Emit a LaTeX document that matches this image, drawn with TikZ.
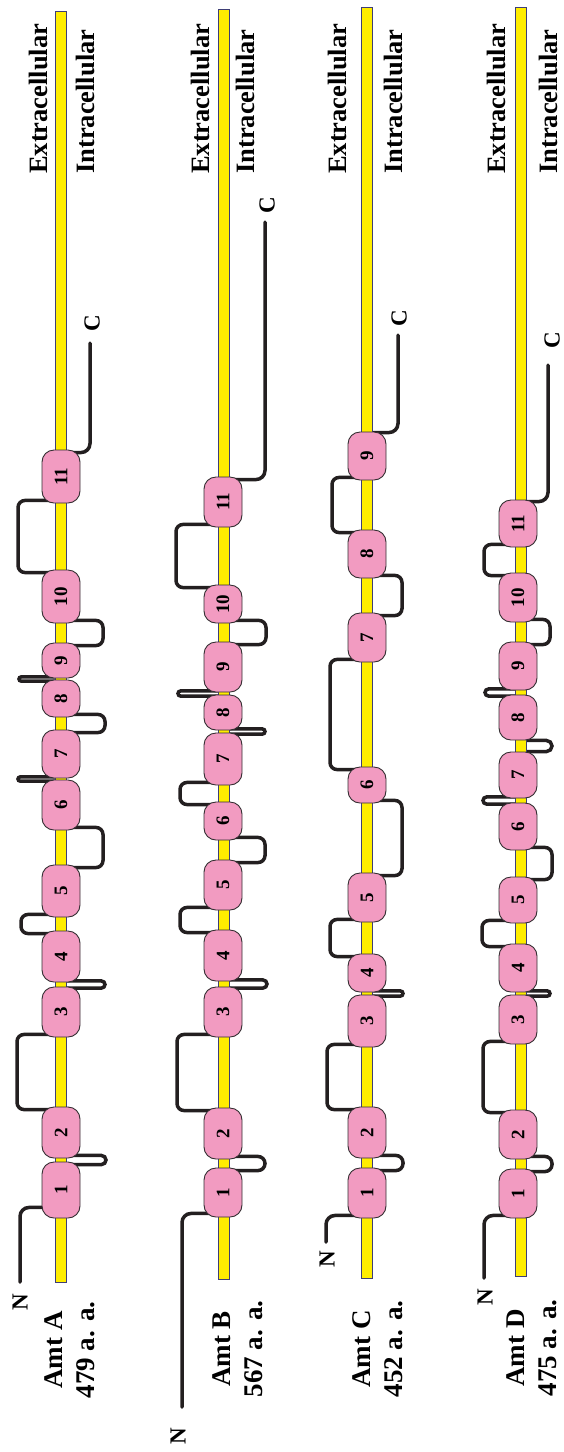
\documentclass[tikz,border=0pt]{standalone}
\usepackage{fontspec}
\setmainfont{Liberation Serif}
\usepackage{graphicx}
\usepackage{xcolor}
\definecolor{helixpink}{RGB}{242,155,193}
\definecolor{lipid}{RGB}{255,237,0}
\definecolor{lipidedge}{RGB}{62,62,118}
\definecolor{chain}{RGB}{35,31,32}
\definecolor{helixedge}{RGB}{52,46,50}
\usepackage{tikz}
\usetikzlibrary{backgrounds,calc}
\tikzset{
  %% membrane band and helices
  membrane/.style={draw=lipidedge, line width=0.6pt, fill=lipid,
                   minimum width=11pt, inner sep=0pt},
  helix/.style={draw=helixedge, line width=0.9pt, fill=helixpink,
                rounded corners=12pt, minimum width=38pt, inner sep=0pt,
                font=\fontsize{19}{22}\selectfont\bfseries},
  %% peptide chain between helices
  chainline/.style={draw=chain, line width=3.5pt, line cap=round},
  %% labels
  sidelabel/.style={rotate=90, anchor=west, inner sep=0pt,
                    font=\fontsize{26.5}{30}\selectfont\bfseries},
  amtlabel/.style={rotate=90, align=center, inner sep=0pt,
                   font=\fontsize{27}{32}\selectfont\bfseries},
  termlabel/.style={rotate=90, inner sep=0pt,
                    font=\fontsize{23}{26}\selectfont\bfseries},
}

\begin{document}
\begin{tikzpicture}[x=1pt, y=-1pt]
\useasboundingbox (0,0) rectangle (563,1452);

%% helices
\foreach \k/\yy/\h in {1/1190/56, 2/1132.5/51, 3/1012/50, 4/956.5/51,
    5/891/52, 6/805/50, 7/754/48, 8/698.5/37, 9/660.5/35, 10/596.5/53, 11/476.5/53}
  \node[helix, minimum height=\h pt] (a\k) at (61,\yy) {\rotatebox{90}{\k}};
\foreach \k/\yy/\h in {1/1192.5/49, 2/1133.5/51, 3/1012/50, 4/955.5/51,
    5/885/50, 6/821/38, 7/759/52, 8/712.5/35, 9/667/50, 10/604/38, 11/502/50}
  \node[helix, minimum height=\h pt] (b\k) at (223,\yy) {\rotatebox{90}{\k}};
\foreach \k/\yy/\h in {1/1193/50, 2/1132.5/51, 3/1021/52, 4/973/38,
    5/897.5/49, 6/785/36, 7/637.5/49, 8/554/48, 9/456/48}
  \node[helix, minimum height=\h pt] (c\k) at (367,\yy) {\rotatebox{90}{\k}};
\foreach \k/\yy/\h in {1/1193.5/49, 2/1134.5/49, 3/1019.5/49, 4/968/48,
    5/900/46, 6/826.5/47, 7/775/46, 8/717.5/45, 9/666/48, 10/597.5/49, 11/523.5/47}
  \node[helix, minimum height=\h pt] (d\k) at (518,\yy) {\rotatebox{90}{\k}};

%% side labels
\foreach \xe/\xi in {38/85, 200/245, 337/393, 496/548} {
  \node[sidelabel] at (\xe,174) {Extracellular};
  \node[sidelabel] at (\xi,174) {Intracellular};
}

%% protein names
\node[amtlabel] (labA) at (70,1350) {Amt A\\479 a. a.};
\node[amtlabel] (labB) at (238,1349) {Amt B\\567 a. a.};
\node[amtlabel] (labC) at (378,1349) {Amt C\\452 a. a.};
\node[amtlabel] (labD) at (532,1348) {Amt D\\475 a. a.};

%% termini
\node[termlabel] (nA) at (20,1302) {N};
\node[termlabel] (nB) at (178,1436) {N};
\node[termlabel] (nC) at (327,1259) {N};
\node[termlabel] (nD) at (485,1297) {N};
\node[termlabel] (cA) at (92,323) {C};
\node[termlabel] (cB) at (267,205) {C};
\node[termlabel] (cC) at (399,318) {C};
\node[termlabel] (cD) at (552,340) {C};
\coordinate (nendA) at (20,1282);
\coordinate (nendB) at (182,1407);
\coordinate (nendC) at (326,1242);
\coordinate (nendD) at (484,1278);
\coordinate (cendA) at (90,343);
\coordinate (cendB) at (265,222);
\coordinate (cendC) at (398,335);
\coordinate (cendD) at (548,365);

\begin{pgfonlayer}{background}
  %% open loops: from helix / to helix / reach / inset
  \foreach \hf/\ht/\dx/\ins in {a2/a3/-44/3, a4/a5/-40/3, a5/a6/42/3, a7/a8/44/3,
      a9/a10/42/3, a10/a11/-43/3,
      b1/b2/42/3, b2/b3/-46/3, b4/b5/-43/3, b5/b6/42/3, b6/b7/-43/3,
      b9/b10/43/3, b10/b11/-47/3,
      c1/c2/36/3, c2/c3/-40/3, c4/c5/-37/3, c5/c6/35/3, c6/c7/-37/3,
      c7/c8/35/3, c8/c9/-35/3,
      d1/d2/34/3, d2/d3/-35/3, d4/d5/-36/3, d5/d6/34/3, d9/d10/32/3, d10/d11/-34/3}
    \draw[chainline, rounded corners=7pt] ([yshift=-\ins pt]\hf.north)
      -- ++(\dx,0) |- ([yshift=\ins pt]\ht.south);

  %% hairpins between close helices: from / to / reach / inset / end angle
  \foreach \hf/\ht/\dx/\ins/\ea in {a1/a2/45/3/90, a3/a4/44/1.5/90,
      a6/a7/-43/1.5/-270, a8/a9/-42/1.5/-270,
      b3/b4/44/1.5/90, b7/b8/42/1.5/90, b8/b9/-45/1.5/-270,
      c3/c4/36/1.5/90,
      d3/d4/32/1.5/90, d6/d7/-35/1.5/-270, d7/d8/34/0/90, d8/d9/-33/1.5/-270}
    \draw[chainline] let \p1=([yshift=-\ins pt]\hf.north),
                         \p2=([yshift=\ins pt]\ht.south),
                         \n1={(\y2-\y1)/2} in
      (\p1) -- ++({\dx pt-\n1*sign(\dx)},0pt)
      arc[start angle=-90, end angle=\ea, radius=\n1] -- (\p2);

  %% N and C tails
  \draw[chainline, rounded corners=9pt] ([yshift=11pt]a1.south) -| (nendA);
  \draw[chainline, rounded corners=9pt] ([yshift=4pt]b1.south) -| (nendB);
  \draw[chainline, rounded corners=9pt] ([yshift=3pt]c1.south) -| (nendC);
  \draw[chainline, rounded corners=9pt] ([yshift=3pt]d1.south) -| (nendD);
  \draw[chainline, rounded corners=9pt] ([yshift=-3pt]a11.north) -| (cendA);
  \draw[chainline, rounded corners=9pt] ([yshift=-3pt]b11.north) -| (cendB);
  \draw[chainline, rounded corners=9pt] ([yshift=-1pt]c9.north) -| (cendC);
  \draw[chainline, rounded corners=9pt] ([yshift=-2pt]d11.north) -| (cendD);

  %% lipid bilayers
  \node[membrane, minimum height=1271pt] (memA) at (61,646.5) {};
  \node[membrane, minimum height=1270pt] (memB) at (224,644) {};
  \node[membrane, minimum height=1271pt] (memC) at (367,642.5) {};
  \node[membrane, minimum height=1269pt] (memD) at (521,641.5) {};
\end{pgfonlayer}
\end{tikzpicture}
\end{document}
